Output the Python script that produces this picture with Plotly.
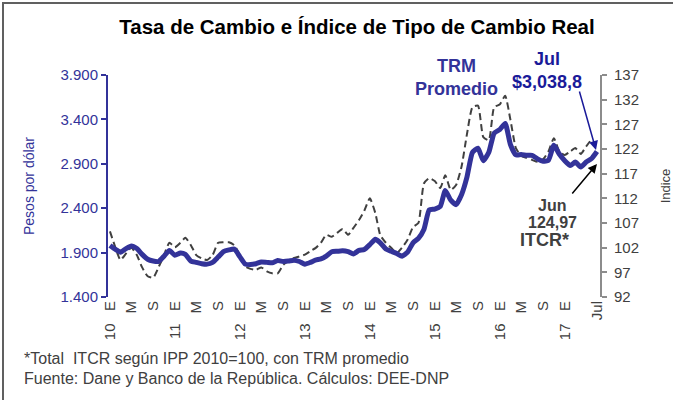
import pandas as pd
import plotly.graph_objects as go

# Monthly data, Jan 2010 - Jul 2017
months = pd.date_range("2010-01-01", "2017-07-01", freq="MS")

trm_promedio = [
    1980, 1935, 1905, 1945, 1975, 1945, 1880, 1825, 1805, 1800, 1860, 1925,   # 2010
    1870, 1895, 1880, 1805, 1790, 1775, 1770, 1790, 1850, 1910, 1930, 1940,   # 2011
    1855, 1770, 1765, 1775, 1795, 1790, 1785, 1810, 1800, 1805, 1815, 1800,   # 2012
    1770, 1790, 1815, 1830, 1860, 1910, 1915, 1920, 1910, 1885, 1925, 1935,   # 2013
    1990, 2050, 2010, 1940, 1915, 1890, 1860, 1905, 2010, 2060, 2160, 2380,   # 2014
    2390, 2420, 2600, 2490, 2440, 2555, 2750, 3030, 3075, 2935, 3030, 3245,   # 2015
    3285, 3355, 3120, 3000, 3005, 2995, 2995, 2955, 2930, 2940, 3110, 3010,   # 2016
    2935, 2880, 2920, 2865, 2920, 2960, 3038.8,                               # 2017
]

itcr = [
    105.3, 102.0, 99.5, 100.8, 102.0, 100.5, 98.0, 96.2, 95.9, 98.0, 100.5, 103.0,      # 2010
    102.1, 103.0, 104.0, 102.5, 100.5, 99.8, 99.5, 100.5, 103.0, 103.1, 103.1, 102.5,   # 2011
    100.5, 98.2, 97.7, 97.5, 98.0, 97.2, 96.8, 96.8, 98.5, 99.3, 99.9, 100.2,          # 2012
    100.6, 101.3, 101.9, 103.0, 104.6, 104.2, 105.0, 105.8, 104.6, 106.0, 107.6, 109.5, # 2013
    112.0, 109.0, 104.5, 103.0, 102.0, 100.9, 102.0, 103.6, 106.2, 107.0, 115.0, 116.1, # 2014
    115.5, 114.1, 116.7, 113.7, 114.7, 118.5, 125.0, 130.5, 130.8, 124.4, 123.8, 130.5, # 2015
    131.0, 132.8, 128.0, 122.2, 120.6, 120.2, 119.8, 119.4, 119.9, 121.5, 124.2, 121.5, # 2016
    120.8, 121.5, 122.2, 121.0, 122.5, 124.0,                                          # 2017 (to Jun)
]

tick_dates = ["2010-01-01", "2010-05-01", "2010-09-01", "2011-01-01", "2011-05-01", "2011-09-01",
              "2012-01-01", "2012-05-01", "2012-09-01", "2013-01-01", "2013-05-01", "2013-09-01",
              "2014-01-01", "2014-05-01", "2014-09-01", "2015-01-01", "2015-05-01", "2015-09-01",
              "2016-01-01", "2016-05-01", "2016-09-01", "2017-01-01", "2017-07-01"]
NB = "\u00a0\u00a0\u00a0"
tick_text = ["10" + NB + "E", "M", "S", "11" + NB + "E", "M", "S",
             "12" + NB + "E", "M", "S", "13" + NB + "E", "M", "S",
             "14" + NB + "E", "M", "S", "15" + NB + "E", "M", "S",
             "16" + NB + "E", "M", "S", "17" + NB + "E", "Jul"]

left_ticks = [1400, 1900, 2400, 2900, 3400, 3900]
left_tick_text = ["1.400", "1.900", "2.400", "2.900", "3.400", "3.900"]
right_ticks = [92, 97, 102, 107, 112, 117, 122, 127, 132, 137]

FONT = "Liberation Sans, Arial, sans-serif"
BLUE = "#333399"
DARK = "#404040"

fig = go.Figure()
fig.add_trace(go.Scatter(
    x=months[:len(itcr)], y=itcr, mode="lines", name="ITCR*",
    line=dict(color=DARK, width=2, dash="7px,4px", shape="spline", smoothing=0.5),
    yaxis="y", hoverinfo="skip"))
fig.add_trace(go.Scatter(
    x=months, y=trm_promedio, mode="lines", name="TRM Promedio",
    line=dict(color=BLUE, width=5, shape="spline", smoothing=0.5),
    yaxis="y2", hoverinfo="skip"))

# pixel -> paper helpers for the plot area (l=108, r=600, t=75, b=297)
def px(xp):
    return (xp - 108) / 492.0

def py(yp):
    return (297 - yp) / 222.0

fig.update_layout(
    width=673, height=400,
    margin=dict(l=108, r=73, t=75, b=103, autoexpand=False),
    paper_bgcolor="white", plot_bgcolor="white",
    showlegend=False,
    font=dict(family=FONT, color=DARK),
    title=dict(text="<b>Tasa de Cambio e Índice de Tipo de Cambio Real</b>",
               font=dict(family=FONT, size=20.5, color="#000000"),
               x=357 / 673, xref="container", xanchor="center",
               y=1 - 27 / 400, yref="container", yanchor="middle"),
    xaxis=dict(type="date", range=["2009-12-21", "2017-07-18"], automargin=False,
               tickvals=tick_dates, ticktext=tick_text, tickangle=-90,
               tickfont=dict(family=FONT, size=15, color=DARK),
               showgrid=False, showline=False, zeroline=False, ticks=""),
    yaxis=dict(side="right", range=[92, 137], tickvals=right_ticks, automargin=False,
               showgrid=False, zeroline=False, showline=True, linecolor="#8c8c8c", linewidth=2,
               ticks="outside", ticklen=5, tickcolor="#8c8c8c", tickwidth=1.5,
               ticklabelstandoff=4,
               tickfont=dict(family=FONT, size=15, color=DARK),
               title=dict(text="Indice", font=dict(family=FONT, size=13, color=DARK), standoff=24)),
    yaxis2=dict(side="left", overlaying="y", range=[1400, 3900], tickvals=left_ticks,
                ticktext=left_tick_text, automargin=False,
                showgrid=False, zeroline=False, showline=True, linecolor=BLUE, linewidth=2,
                ticks="outside", ticklen=5, tickcolor=BLUE, tickwidth=1.5,
                tickfont=dict(family=FONT, size=15, color=BLUE),
                title=dict(text="Pesos por dólar", font=dict(family=FONT, size=14, color=BLUE), standoff=23)),
)

# outer frame (left and top edges visible)
fig.add_shape(type="rect", xref="paper", yref="paper",
              x0=px(3), y0=py(410), x1=px(690), y1=py(3),
              line=dict(color="#606060", width=2))

ann = [
    dict(text="<b>TRM<br>Promedio</b>", x=px(456), y=py(77), size=18, color=BLUE),
    dict(text="<b>Jul<br>$3,038,8</b>", x=px(547), y=py(71), size=18, color="#1a1a99"),
    dict(text="<b>Jun</b>", x=px(552), y=py(205), size=16, color=DARK),
    dict(text="<b>124,97</b>", x=px(552), y=py(222), size=16, color=DARK),
    dict(text="<b>ITCR*</b>", x=px(544), y=py(240), size=18, color=DARK),
]
for a in ann:
    fig.add_annotation(text=a["text"], x=a["x"], y=a["y"], xref="paper", yref="paper",
                       showarrow=False, xanchor="center", yanchor="middle",
                       font=dict(family=FONT, size=a["size"], color=a["color"]))

# arrows
fig.add_annotation(x=px(596), y=py(150), xref="paper", yref="paper", text="",
                   showarrow=True, ax=-17, ay=-60, arrowhead=2, arrowsize=1.2,
                   arrowwidth=1.5, arrowcolor="#1a1a99")
fig.add_annotation(x=px(597), y=py(164), xref="paper", yref="paper", text="",
                   showarrow=True, ax=-26, ay=31, arrowhead=2, arrowsize=1.2,
                   arrowwidth=1.5, arrowcolor="#000000")

# footnotes
fig.add_annotation(text="*Total  ITCR según IPP 2010=100, con TRM promedio", x=px(22), y=py(358),
                   xref="paper", yref="paper", showarrow=False, xanchor="left", yanchor="middle",
                   font=dict(family=FONT, size=16, color=DARK))
fig.add_annotation(text="Fuente: Dane y Banco de la República. Cálculos: DEE-DNP", x=px(22), y=py(378),
                   xref="paper", yref="paper", showarrow=False, xanchor="left", yanchor="middle",
                   font=dict(family=FONT, size=16, color=DARK))

fig.write_html("out.html", config={"displayModeBar": False},
               post_script="document.body.style.margin='0';")
